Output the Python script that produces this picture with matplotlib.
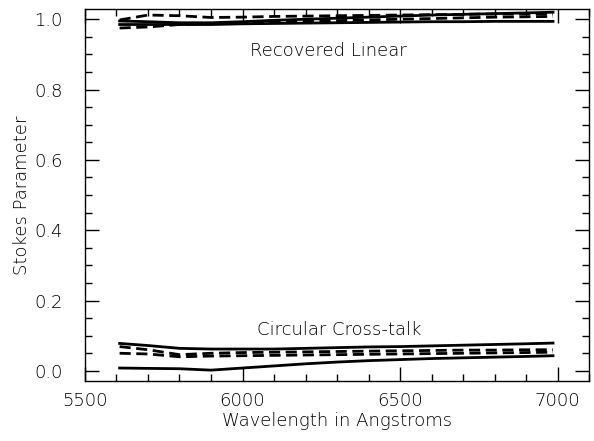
import matplotlib.pyplot as plt
from matplotlib.ticker import MultipleLocator

wave = [5610, 5700, 5800, 5900, 6000, 6100, 6200, 6300, 6400, 6500, 6600, 6700, 6800, 6900, 6985]

# recovered linear polarization
lin_solid_a = [0.995, 0.993, 0.990, 0.990, 0.993, 0.997, 1.000, 1.003, 1.006, 1.009, 1.012, 1.014, 1.016, 1.018, 1.020]
lin_solid_b = [0.985, 0.985, 0.985, 0.985, 0.987, 0.988, 0.989, 0.990, 0.991, 0.992, 0.993, 0.993, 0.994, 0.994, 0.994]
lin_dash_a = [0.998, 1.012, 1.010, 1.005, 1.006, 1.008, 1.009, 1.010, 1.011, 1.012, 1.013, 1.014, 1.015, 1.015, 1.015]
lin_dash_b = [0.975, 0.978, 0.985, 0.988, 0.990, 0.992, 0.994, 0.996, 0.998, 1.000, 1.002, 1.004, 1.006, 1.007, 1.008]

# circular cross-talk
circ_solid_a = [0.078, 0.072, 0.064, 0.062, 0.062, 0.062, 0.064, 0.066, 0.068, 0.069, 0.071, 0.073, 0.075, 0.077, 0.079]
circ_solid_b = [0.008, 0.007, 0.006, 0.002, 0.008, 0.014, 0.020, 0.025, 0.029, 0.032, 0.035, 0.037, 0.039, 0.041, 0.043]
circ_dash_a = [0.069, 0.060, 0.046, 0.050, 0.052, 0.053, 0.054, 0.055, 0.056, 0.057, 0.058, 0.059, 0.059, 0.060, 0.060]
circ_dash_b = [0.050, 0.048, 0.040, 0.042, 0.043, 0.044, 0.045, 0.046, 0.047, 0.048, 0.049, 0.050, 0.051, 0.052, 0.053]

plt.rcParams['font.family'] = 'DejaVu Sans'
plt.rcParams['font.weight'] = 'light'
plt.rcParams['axes.labelweight'] = 'light'
fig = plt.figure(figsize=(5.94, 4.41), dpi=100)
ax = fig.add_axes([0.143, 0.137, 0.849, 0.842])

for ys in (lin_solid_a, lin_solid_b, circ_solid_a, circ_solid_b):
    ax.plot(wave, ys, color='black', lw=2)
for ys in (lin_dash_a, lin_dash_b, circ_dash_a, circ_dash_b):
    ax.plot(wave, ys, color='black', lw=2, dashes=(4, 2))

ax.text(6272, 0.91, 'Recovered Linear', ha='center', va='center', fontsize=13)
ax.text(6307, 0.117, 'Circular Cross-talk', ha='center', va='center', fontsize=13)

ax.set_xlim(5500, 7100)
ax.set_ylim(-0.0277, 1.0284)
ax.xaxis.set_major_locator(MultipleLocator(500))
ax.xaxis.set_minor_locator(MultipleLocator(100))
ax.yaxis.set_major_locator(MultipleLocator(0.2))
ax.yaxis.set_minor_locator(MultipleLocator(0.05))
ax.yaxis.set_major_formatter(plt.FormatStrFormatter('%.1f'))
ax.tick_params(which='both', direction='in', top=True, right=True, labelsize=13, width=1)
ax.tick_params(which='major', length=10)
ax.tick_params(axis='x', which='major', pad=8)
ax.tick_params(axis='y', which='major', pad=16)
ax.tick_params(which='minor', length=5)
for s in ax.spines.values():
    s.set_linewidth(1)

ax.set_xlabel('Wavelength in Angstroms', fontsize=13, labelpad=2)
ax.set_ylabel('Stokes Parameter', fontsize=13, labelpad=2)

fig.savefig('out.png', dpi=100)
